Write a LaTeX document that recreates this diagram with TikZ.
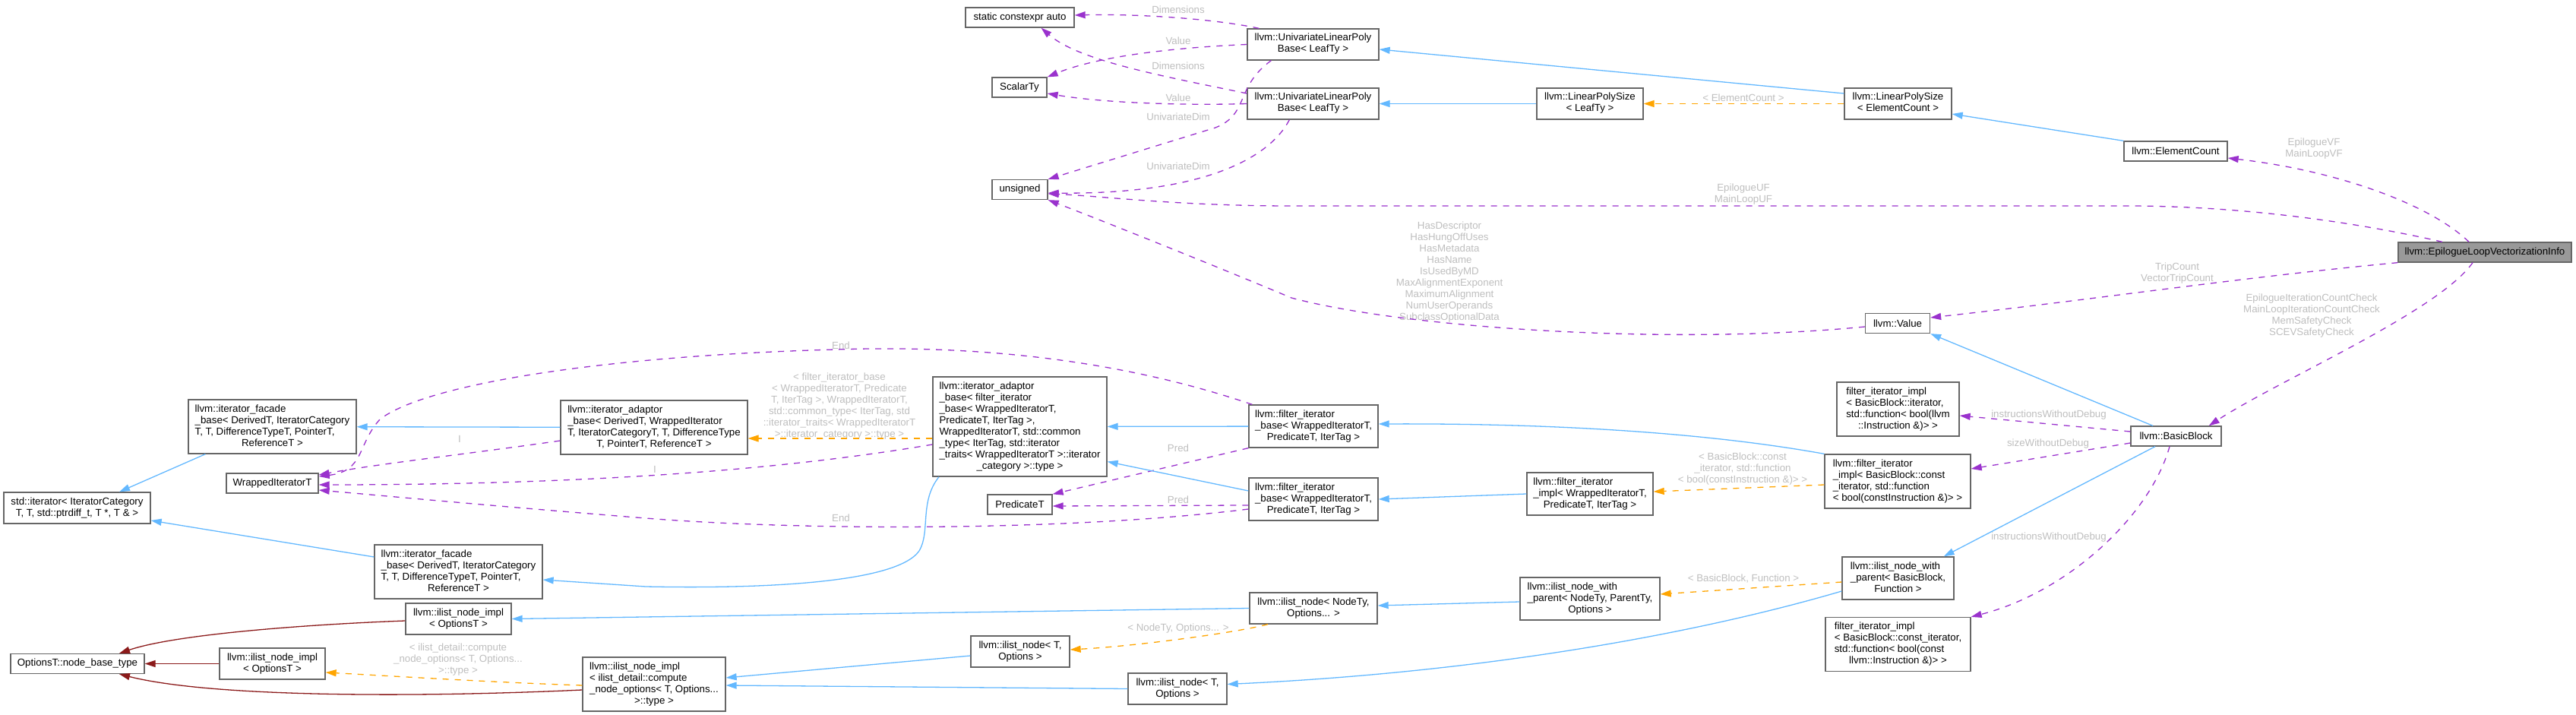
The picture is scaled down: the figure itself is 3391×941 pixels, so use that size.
\documentclass[tikz,border=0pt]{standalone}
\usepackage{fontspec}
\setmainfont{Liberation Sans}
\usetikzlibrary{arrows.meta}
\definecolor{usepurple}{HTML}{9A32CD}
\definecolor{inhblue}{HTML}{63B8FF}
\definecolor{tmplorange}{HTML}{FFA500}
\definecolor{privred}{HTML}{8B1A1A}
\definecolor{boxgray}{HTML}{666666}
\definecolor{curgray}{HTML}{999999}
\definecolor{labelgray}{HTML}{BEBEBE}
\newcommand{\cname}[2]{\begin{tabular}{@{}l@{}}#1\\\multicolumn{1}{@{}c@{}}{#2}\end{tabular}}
\begin{document}
\begin{tikzpicture}[x=1pt,y=1pt,>={Triangle[length=14pt,width=9pt]},every node/.style={font=\fontsize{13.3}{15}\selectfont},
cls/.style={draw=boxgray,fill=white,line width=1.3pt,inner xsep=3pt,inner ysep=1pt},
cur/.style={cls,fill=curgray},
rows/.style={minimum height=11pt+15pt*#1},
lbl/.style={text=labelgray,align=center,inner sep=0pt},
uses/.style={->,draw=usepurple,line width=1.3pt,dash pattern=on 8pt off 8pt},
tmpl/.style={->,draw=tmplorange,line width=1.3pt,dash pattern=on 8pt off 8pt},
inh/.style={->,draw=inhblue,line width=1.3pt},
priv/.style={->,draw=privred,line width=1.3pt}]
\useasboundingbox (0,0) rectangle (3391,-941);
\node[cls,rows=1,minimum width=143pt] (sca) at (1342.5,-23) {static constexpr auto};
\node[cls,rows=1,minimum width=72pt] (scal) at (1342,-115) {ScalarTy};
\node[cls,rows=1,minimum width=73pt] (uns) at (1342.5,-249.5) {unsigned};
\node[cls,rows=2,minimum width=173pt] (ulpb1) at (1728.5,-58.5) {\cname{llvm::UnivariateLinearPoly}{Base< LeafTy >}};
\node[cls,rows=2,minimum width=173pt] (ulpb2) at (1728.5,-136.5) {\cname{llvm::UnivariateLinearPoly}{Base< LeafTy >}};
\node[cls,rows=2,minimum width=140pt] (lpsleaf) at (2093,-136.5) {\cname{llvm::LinearPolySize}{< LeafTy >}};
\node[cls,rows=2,minimum width=141pt] (lpsec) at (2498.5,-136.5) {\cname{llvm::LinearPolySize}{< ElementCount >}};
\node[cls,rows=1,minimum width=136pt] (ec) at (2864,-199) {llvm::ElementCount};
\node[cur,rows=1,minimum width=228pt] (elvi) at (3271,-332) {llvm::EpilogueLoopVectorizationInfo};
\node[cls,rows=1,minimum width=85pt] (val) at (2498,-425.5) {llvm::Value};
\node[cls,rows=1,minimum width=119pt] (bb) at (2864.5,-574) {llvm::BasicBlock};
\node[cls,rows=4,minimum width=161pt] (fiitop) at (2498.5,-538.5) {\cname{filter\_iterator\_impl\\< BasicBlock::iterator,\\std::function< bool(llvm}{::Instruction \&)> >}};
\node[cls,rows=4,minimum width=192pt] (fiiconst) at (2498,-633.5) {\cname{llvm::filter\_iterator\\\_impl< BasicBlock::const\\\_iterator, std::function}{< bool(constInstruction \&)> >}};
\node[cls,rows=3,minimum width=147pt] (inwpbb) at (2498.5,-761) {\cname{llvm::ilist\_node\_with\\\_parent< BasicBlock,}{Function >}};
\node[cls,rows=4,minimum width=191pt] (fiibot) at (2498.5,-848) {\cname{filter\_iterator\_impl\\< BasicBlock::const\_iterator,\\std::function< bool(const}{llvm::Instruction \&)> >}};
\node[cls,rows=3,minimum width=166pt] (fiiw) at (2093,-650) {\cname{llvm::filter\_iterator\\\_impl< WrappedIteratorT,}{PredicateT, IterTag >}};
\node[cls,rows=3,minimum width=184pt] (inwp) at (2093,-788) {\cname{llvm::ilist\_node\_with\\\_parent< NodeTy, ParentTy,}{Options >}};
\node[cls,rows=3,minimum width=170pt] (fib1) at (1729,-561) {\cname{llvm::filter\_iterator\\\_base< WrappedIteratorT,}{PredicateT, IterTag >}};
\node[cls,rows=3,minimum width=170pt] (fib2) at (1729,-657) {\cname{llvm::filter\_iterator\\\_base< WrappedIteratorT,}{PredicateT, IterTag >}};
\node[cls,rows=2,minimum width=168pt] (inNT) at (1729,-800.5) {\cname{llvm::ilist\_node< NodeTy,}{Options... >}};
\node[cls,rows=2,minimum width=130pt] (in1) at (1343,-857.5) {\cname{llvm::ilist\_node< T,}{Options >}};
\node[cls,rows=2,minimum width=130pt] (in2) at (1550,-906.5) {\cname{llvm::ilist\_node< T,}{Options >}};
\node[cls,rows=1,minimum width=85pt] (pred) at (1342.5,-664) {PredicateT};
\node[cls,rows=8,minimum width=229pt] (iab2) at (1342.5,-561.5) {\cname{llvm::iterator\_adaptor\\\_base< filter\_iterator\\\_base< WrappedIteratorT,\\PredicateT, IterTag >,\\WrappedIteratorT, std::common\\\_type< IterTag, std::iterator\\\_traits< WrappedIteratorT >::iterator}{\_category >::type >}};
\node[cls,rows=4,minimum width=246pt] (iab1) at (861,-562.5) {\cname{llvm::iterator\_adaptor\\\_base< DerivedT, WrappedIterator\\T, IteratorCategoryT, T, DifferenceType}{T, PointerT, ReferenceT >}};
\node[cls,rows=4,minimum width=221pt] (ifb1) at (358.5,-561.5) {\cname{llvm::iterator\_facade\\\_base< DerivedT, IteratorCategory\\T, T, DifferenceTypeT, PointerT,}{ReferenceT >}};
\node[cls,rows=1,minimum width=121pt] (wit) at (358.5,-636) {WrappedIteratorT};
\node[cls,rows=2,minimum width=193pt] (stdit) at (101.5,-668.5) {\cname{std::iterator< IteratorCategory}{T, T, std::ptrdiff\_t, T *, T \& >}};
\node[cls,rows=4,minimum width=221pt] (ifb2) at (603.5,-752.5) {\cname{llvm::iterator\_facade\\\_base< DerivedT, IteratorCategory\\T, T, DifferenceTypeT, PointerT,}{ReferenceT >}};
\node[cls,rows=2,minimum width=139pt] (ini1) at (603.5,-814.5) {\cname{llvm::ilist\_node\_impl}{< OptionsT >}};
\node[cls,rows=1,minimum width=176pt] (nbt) at (102,-873.5) {OptionsT::node\_base\_type};
\node[cls,rows=2,minimum width=139pt] (ini2) at (358.5,-873.5) {\cname{llvm::ilist\_node\_impl}{< OptionsT >}};
\node[cls,rows=4,minimum width=188pt] (inid) at (861,-900.5) {\cname{llvm::ilist\_node\_impl\\< ilist\_detail::compute\\\_node\_options< T, Options...}{>::type >}};
\node[lbl] (lDim1) at (1551,-13) {Dimensions};
\node[lbl] (lVal1) at (1551,-54) {Value};
\node[lbl] (lDim2) at (1551,-87) {Dimensions};
\node[lbl] (lVal2) at (1551,-129) {Value};
\node[lbl] (lUni1) at (1551,-154) {UnivariateDim};
\node[lbl] (lUni2) at (1551,-219) {UnivariateDim};
\node[lbl] (lUF) at (2295,-255.5) {EpilogueUF\\MainLoopUF};
\node[lbl] (lBits) at (1908,-358) {HasDescriptor\\HasHungOffUses\\HasMetadata\\HasName\\IsUsedByMD\\MaxAlignmentExponent\\MaximumAlignment\\NumUserOperands\\SubclassOptionalData};
\node[lbl] (lEC) at (2295,-129) {< ElementCount >};
\node[lbl] (lVF) at (3046,-195.5) {EpilogueVF\\MainLoopVF};
\node[lbl] (lTrip) at (2866,-359.5) {TripCount\\VectorTripCount};
\node[lbl] (lChk) at (3043,-415.5) {EpilogueIterationCountCheck\\MainLoopIterationCountCheck\\MemSafetyCheck\\SCEVSafetyCheck};
\node[lbl] (lIwd1) at (2697,-546) {instructionsWithoutDebug};
\node[lbl] (lSwd) at (2696,-584) {sizeWithoutDebug};
\node[lbl] (lIwd2) at (2697,-707) {instructionsWithoutDebug};
\node[lbl] (lBBc) at (2294,-617) {< BasicBlock::const\\\_iterator, std::function\\< bool(constInstruction \&)> >};
\node[lbl] (lBBF) at (2295,-762) {< BasicBlock, Function >};
\node[lbl] (lPred1) at (1551,-590) {Pred};
\node[lbl] (lPred2) at (1551,-658) {Pred};
\node[lbl] (lEnd1) at (1107,-455) {End};
\node[lbl] (lEnd2) at (1107,-682) {End};
\node[lbl] (lI1) at (605,-578) {I};
\node[lbl] (lI2) at (862,-618) {I};
\node[lbl] (lNT) at (1551,-827) {< NodeTy, Options... >};
\node[lbl] (lFib) at (1105,-534.5) {< filter\_iterator\_base\\< WrappedIteratorT, Predicate\\T, IterTag >, WrappedIteratorT,\\std::common\_type< IterTag, std\\::iterator\_traits< WrappedIteratorT\\>::iterator\_category >::type >};
\node[lbl] (lCmp) at (603,-868) {< ilist\_detail::compute\\\_node\_options< T, Options...\\>::type >};
\draw[uses] ([xshift=16pt]ulpb1.north west) .. controls (1600,-25) and (1500,-18) .. ([yshift=3pt]sca.east);
\draw[uses] (ulpb1.west) .. controls (1560,-62) and (1450,-72) .. (scal.north east);
\draw[uses] ([yshift=13.5pt]ulpb2.west) .. controls (1530,-100) and (1420,-80) .. ([xshift=28pt]sca.south);
\draw[uses] (ulpb2.west) .. controls (1550,-139) and (1450,-135) .. ([yshift=-8pt]scal.east);
\draw[uses] ([xshift=32pt]ulpb1.south west) .. controls (1625,-115) and (1645,-150) .. (1600,-168) -- (uns.north east);
\draw[uses] ([xshift=56pt]ulpb2.south west) .. controls (1670,-210) and (1580,-256) .. ([yshift=-4.5pt]uns.east);
\draw[uses] ([xshift=-56pt]elvi.north) .. controls (3100,-292) and (2950,-271) .. (2800,-271) -- (1700,-271) .. controls (1550,-271) and (1450,-258) .. ([yshift=-5.5pt]uns.east);
\draw[uses] ([xshift=-21pt]elvi.north) .. controls (3200,-270) and (3080,-225) .. ([yshift=-9pt]ec.east);
\draw[uses] (elvi.south west) .. controls (2950,-365) and (2750,-395) .. ([yshift=7.5pt]val.east);
\draw[uses] ([xshift=-16pt]elvi.south) .. controls (3210,-410) and (3000,-500) .. ([xshift=-17pt]bb.north east);
\draw[uses] ([yshift=-4.5pt]val.west) .. controls (2200,-455) and (1850,-432) .. (1700,-392) .. controls (1600,-350) and (1450,-290) .. (uns.south east);
\draw[inh] ([yshift=13.5pt]lpsec.west) -- ([yshift=-6.5pt]ulpb1.east);
\draw[inh] (lpsleaf) -- (ulpb2);
\draw[tmpl] (lpsec) -- (lpsleaf);
\draw[inh] (ec.north west) -- ([yshift=-13.5pt]lpsec.east);
\draw[inh] ([xshift=-30.5pt]bb.north) -- (val.south east);
\draw[inh] ([xshift=-27.5pt]bb.south) -- ([xshift=-14pt]inwpbb.north east);
\draw[uses] ([yshift=6pt]bb.west) -- ([yshift=-8.5pt]fiitop.east);
\draw[uses] ([yshift=-9pt]bb.west) -- ([yshift=16.5pt]fiiconst.east);
\draw[uses] ([xshift=-8.5pt]bb.south) .. controls (2830,-680) and (2720,-780) .. (fiibot.north east);
\draw[inh] (fiiconst.north west) .. controls (2250,-570) and (2050,-557) .. ([yshift=3pt]fib1.east);
\draw[tmpl] ([yshift=-4.5pt]fiiconst.west) -- ([yshift=3pt]fiiw.east);
\draw[inh] (fiiw.west) -- (fib2.east);
\draw[tmpl] ([yshift=-5pt]inwpbb.west) -- ([yshift=6pt]inwp.east);
\draw[inh] ([yshift=-17pt]inwpbb.west) .. controls (2230,-835) and (1950,-885) .. ([yshift=6pt]in2.east);
\draw[inh] ([yshift=-4pt]inwp.west) -- ([yshift=3.5pt]inNT.east);
\draw[inh] (inNT.west) -- (ini1.east);
\draw[tmpl] ([xshift=-60pt]inNT.south) .. controls (1630,-832) and (1500,-850) .. ([yshift=2.5pt]in1.east);
\draw[inh] ([yshift=-5.5pt]in1.west) -- ([yshift=8.5pt]inid.east);
\draw[inh] (in2.west) -- ([yshift=-1.5pt]inid.east);
\draw[uses] (fib1.south west) -- (pred.north east);
\draw[uses] ([yshift=-8pt]fib2.west) -- ([yshift=-2pt]pred.east);
\draw[inh] (fib1) -- (iab2);
\draw[inh] ([yshift=11pt]fib2.west) -- ([yshift=-46pt]iab2.east);
\draw[tmpl] ([yshift=-15.5pt]iab2.west) -- ([yshift=-14.5pt]iab1.east);
\draw[uses] ([yshift=-23.5pt]iab2.west) .. controls (1050,-615) and (800,-638) .. ([yshift=-2pt]wit.east);
\draw[uses] ([yshift=-17.5pt]iab1.west) .. controls (620,-597) and (500,-610) .. ([yshift=11pt]wit.east);
\draw[uses] ([xshift=5pt]fib1.north west) .. controls (1450,-465) and (1250,-455) .. (1100,-460) .. controls (800,-468) and (560,-505) .. (500,-552) .. controls (470,-585) and (480,-620) .. ([yshift=9pt]wit.east);
\draw[uses] ([yshift=-13pt]fib2.west) .. controls (1400,-700) and (1050,-698) .. (850,-682) .. controls (650,-666) and (500,-652) .. ([yshift=-9pt]wit.east);
\draw[inh] (iab1) -- (ifb1);
\draw[inh] ([xshift=-106.5pt]iab2.south) .. controls (1210,-660) and (1225,-700) .. (1210,-725) .. controls (1180,-768) and (1000,-775) .. (850,-772) -- ([yshift=-10.5pt]ifb2.east);
\draw[inh] ([xshift=23pt]ifb1.south west) -- ([xshift=55.5pt]stdit.north);
\draw[inh] ([yshift=19.5pt]ifb2.west) -- ([yshift=-16.5pt]stdit.east);
\draw[priv] ([yshift=-2.5pt]ini1.west) .. controls (400,-822) and (230,-835) .. ([xshift=55pt]nbt.north);
\draw[priv] (ini2) -- (nbt);
\draw[priv] ([yshift=-7.5pt]inid.west) .. controls (550,-918) and (280,-918) .. ([xshift=55pt]nbt.south);
\draw[tmpl] ([yshift=-1.5pt]inid.west) .. controls (650,-898) and (520,-890) .. ([yshift=-11.5pt]ini2.east);
\end{tikzpicture}
\end{document}
